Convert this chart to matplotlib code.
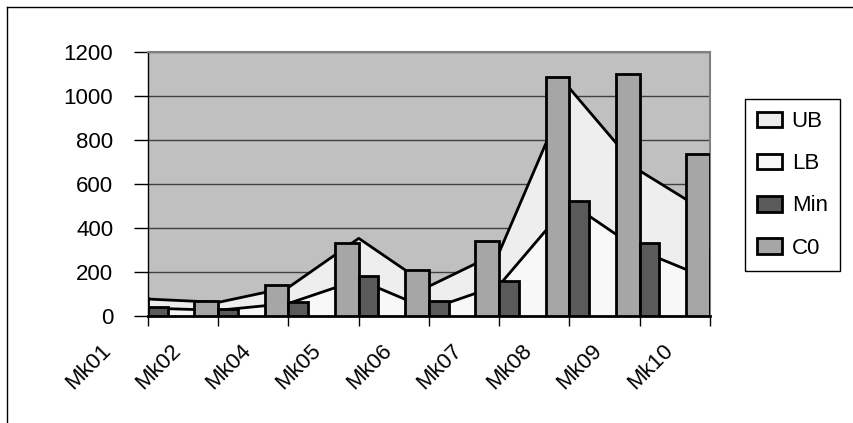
import numpy as np
import matplotlib
matplotlib.use("Agg")
import matplotlib.pyplot as plt
import matplotlib.transforms as mtransforms
from matplotlib.patches import Patch
from matplotlib.lines import Line2D

plt.rcParams['font.family'] = ['Liberation Sans', 'DejaVu Sans']

# values
instances = ["Mk01", "Mk02", "Mk04", "Mk05", "Mk06", "Mk07", "Mk08", "Mk09", "Mk10"]
ub = [77, 62, 130, 353, 135, 290, 1035, 660, 463]
lb = [36, 26, 57, 165, 30, 140, 515, 298, 167]
min_vals = [41, 32, 64, 180, 68, 160, 523, 332, 300]
c0 = [80, 68, 141, 332, 209, 341, 1088, 1100, 736]
y_ticks = [0, 200, 400, 600, 800, 1000, 1200]

x = np.arange(len(instances))

fig = plt.figure(figsize=(8.54, 4.23), dpi=100)
ax = fig.add_axes([148 / 854, 1 - 316 / 423, (710 - 148) / 854, (316 - 52) / 423])
ax.set_facecolor("#C0C0C0")

# area series
ax.fill_between(x, 0, ub, color="#EEEEEE", zorder=1)
ax.plot(x, ub, color="black", lw=2, zorder=2)
ax.fill_between(x, 0, lb, color="#F8F8F8", zorder=1)
ax.plot(x, lb, color="black", lw=2, zorder=2)

# bars sit either side of the category tick
ax.bar(x, c0, width=-0.34, align="edge", color="#A6A6A6", edgecolor="black", lw=2, zorder=3)
ax.bar(x, min_vals, width=0.28, align="edge", color="#5A5A5A", edgecolor="black", lw=2, zorder=3)

ax.set_xlim(0, len(instances) - 1)
ax.set_ylim(0, 1200)
ax.set_yticks(y_ticks)
ax.set_yticklabels([str(v) for v in y_ticks], fontsize=16)
ax.set_xticks(x)
ax.set_xticklabels([])
ax.set_axisbelow(True)
ax.yaxis.grid(True, color="#404040", lw=1)
ax.tick_params(axis="y", length=10, width=1, pad=15, direction="out")
ax.tick_params(axis="x", length=7, width=1, direction="out")

for side in ["top", "right"]:
    ax.spines[side].set_color("#808080")
    ax.spines[side].set_linewidth(1.5)
ax.spines["left"].set_linewidth(1)
ax.spines["bottom"].set_linewidth(2)

# rotated category labels, shifted left of their ticks like the original
lab_trans = mtransforms.offset_copy(ax.get_xaxis_transform(), fig=fig, x=-48, y=-24, units="dots")
for xi, name in zip(x, instances):
    ax.text(xi, 0, name, transform=lab_trans, rotation=45, rotation_mode="anchor",
            ha="right", va="top", fontsize=16)

handles = [
    Patch(facecolor="#EEEEEE", edgecolor="black", lw=2, label="UB"),
    Patch(facecolor="#F8F8F8", edgecolor="black", lw=2, label="LB"),
    Patch(facecolor="#5A5A5A", edgecolor="black", lw=2, label="Min"),
    Patch(facecolor="#A6A6A6", edgecolor="black", lw=2, label="C0"),
]
leg = fig.legend(handles=handles, loc="upper left", bbox_to_anchor=(745 / 854, 1 - 99 / 423),
                 bbox_transform=fig.transFigure, borderaxespad=0, fontsize=16,
                 fancybox=False, framealpha=1, edgecolor="black", handlelength=1.1,
                 handleheight=0.72, handletextpad=0.45, labelspacing=0.95, borderpad=0.55)
leg.get_frame().set_linewidth(1)

# chart area border (top and left edges visible)
fig.add_artist(Line2D([7 / 854, 1], [1 - 7 / 423, 1 - 7 / 423], color="black", lw=1))
fig.add_artist(Line2D([7 / 854, 7 / 854], [0, 1 - 7 / 423], color="black", lw=1))

fig.savefig("out.png", dpi=100)
